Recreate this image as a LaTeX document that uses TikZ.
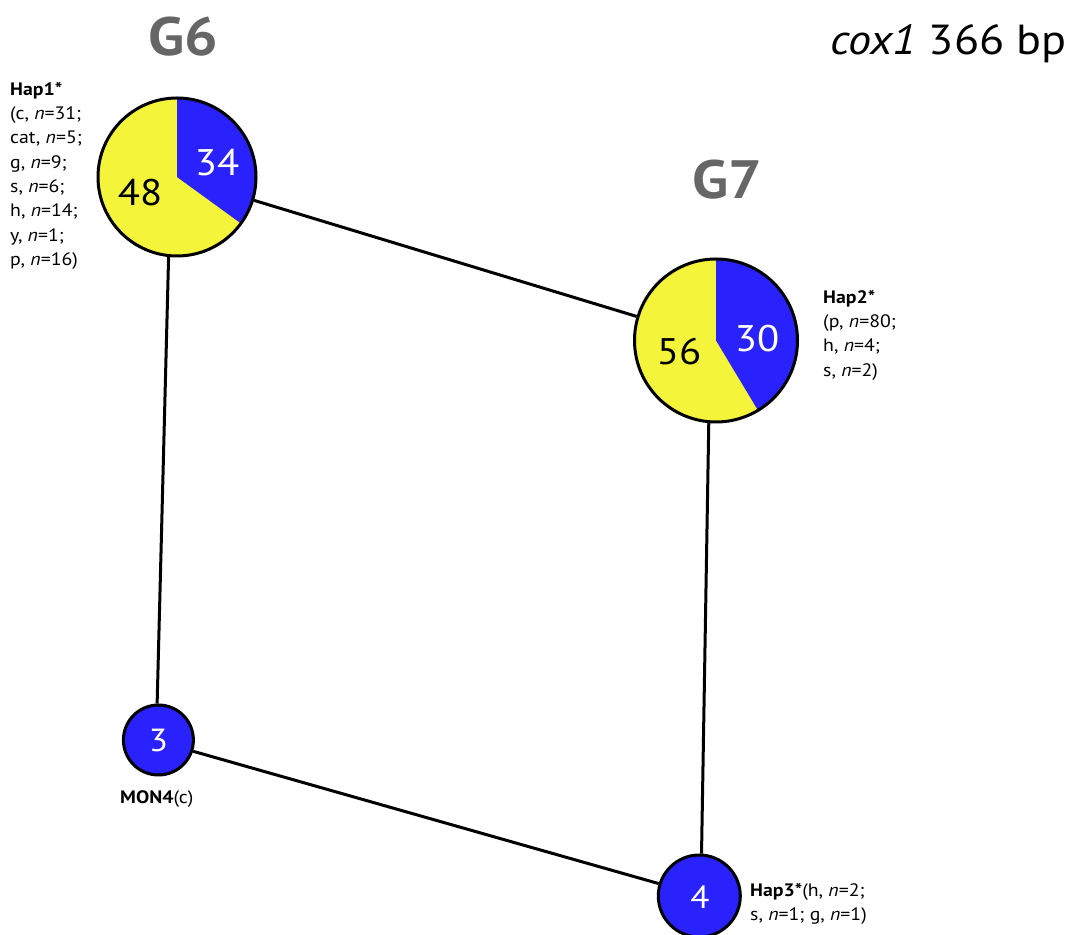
\documentclass[tikz,border=0pt]{standalone}
\usepackage{fontspec}
\setmainfont{PT Sans}[FakeStretch=1.1]
\definecolor{hapblue}{RGB}{42,34,252}
\definecolor{hapyellow}{RGB}{244,244,58}
\definecolor{titlegray}{RGB}{102,102,102}
\begin{document}
\begin{tikzpicture}[x=1pt,y=1pt,
  hapnode/.style={circle, draw=black, line width=3pt, inner sep=0pt},
  link/.style={line width=3pt},
  count/.style={font=\fontsize{37}{40}\selectfont, inner sep=0pt},
  smallcount/.style={font=\fontsize{32}{36}\selectfont, text=white, inner sep=0pt},
  info/.style={font=\fontsize{18}{24.3}\selectfont, align=left, inner sep=0pt, anchor=north west},
  grouptitle/.style={font=\bfseries\fontsize{54}{60}\selectfont, text=titlegray, inner sep=0pt}]
\useasboundingbox (0,0) rectangle (1075,934);

% pie slices
\fill[hapyellow] (177,757) circle (79);
\fill[hapblue] (177,757) -- ++(90:79) arc (90:-36:79) -- cycle;
\fill[hapyellow] (716,593.5) circle (81.5);
\fill[hapblue] (716,593.5) -- ++(90:81.5) arc (90:-59:81.5) -- cycle;
\fill[hapblue] (158.4,194) circle (35);
\fill[hapblue] (699.3,38) circle (41);

% haplotype circles
\node[hapnode, minimum size=158pt] (hap1) at (177,757) {};
\node[hapnode, minimum size=163pt] (hap2) at (716,593.5) {};
\node[hapnode, minimum size=70pt] (mon4) at (158.4,194) {};
\node[hapnode, minimum size=82pt] (hap3) at (699.3,38) {};

% network links
\draw[link] (hap1) -- (hap2);
\draw[link] (hap1.264) -- (mon4.92);
\draw[link] (hap2.265) -- (hap3.87);
\draw[link] (mon4.-18) -- (hap3.163);

% counts
\node[count] (c48) at (140,741) {48};
\node[count, text=white] (c34) at (217,771.5) {34};
\node[count] (c56) at (679,582.3) {56};
\node[count, text=white] (c30) at (757,595.2) {30};
\node[smallcount] (c3) at (158.4,194) {3};
\node[smallcount] (c4) at (700,36.5) {4};

% group titles
\node[grouptitle] (g6) at (183,897.5) {G6};
\node[grouptitle] (g7) at (727,754) {G7};
\node[font=\fontsize{42}{48}\selectfont, inner sep=0pt, anchor=base east] (gene) at (1067,879) {\textit{cox1} 366 bp};

% haplotype descriptions
\node[info] (lab1) at (10,852) {\textbf{Hap1*}\\ (c, \textit{n}=31;\\ cat, \textit{n}=5;\\ g, \textit{n}=9;\\ s, \textit{n}=6;\\ h, \textit{n}=14;\\ y, \textit{n}=1;\\ p, \textit{n}=16)};
\node[info] (lab2) at (823,644) {\textbf{Hap2*}\\ (p, \textit{n}=80;\\ h, \textit{n}=4;\\ s, \textit{n}=2)};
\node[font=\fontsize{18}{24}\selectfont, inner sep=0pt, anchor=base west] (lab4) at (120,131) {\textbf{MON4}(c)};
\node[info] (lab3) at (750,51) {\textbf{Hap3*}(h, \textit{n}=2;\\ s, \textit{n}=1; g, \textit{n}=1)};
\end{tikzpicture}
\end{document}
